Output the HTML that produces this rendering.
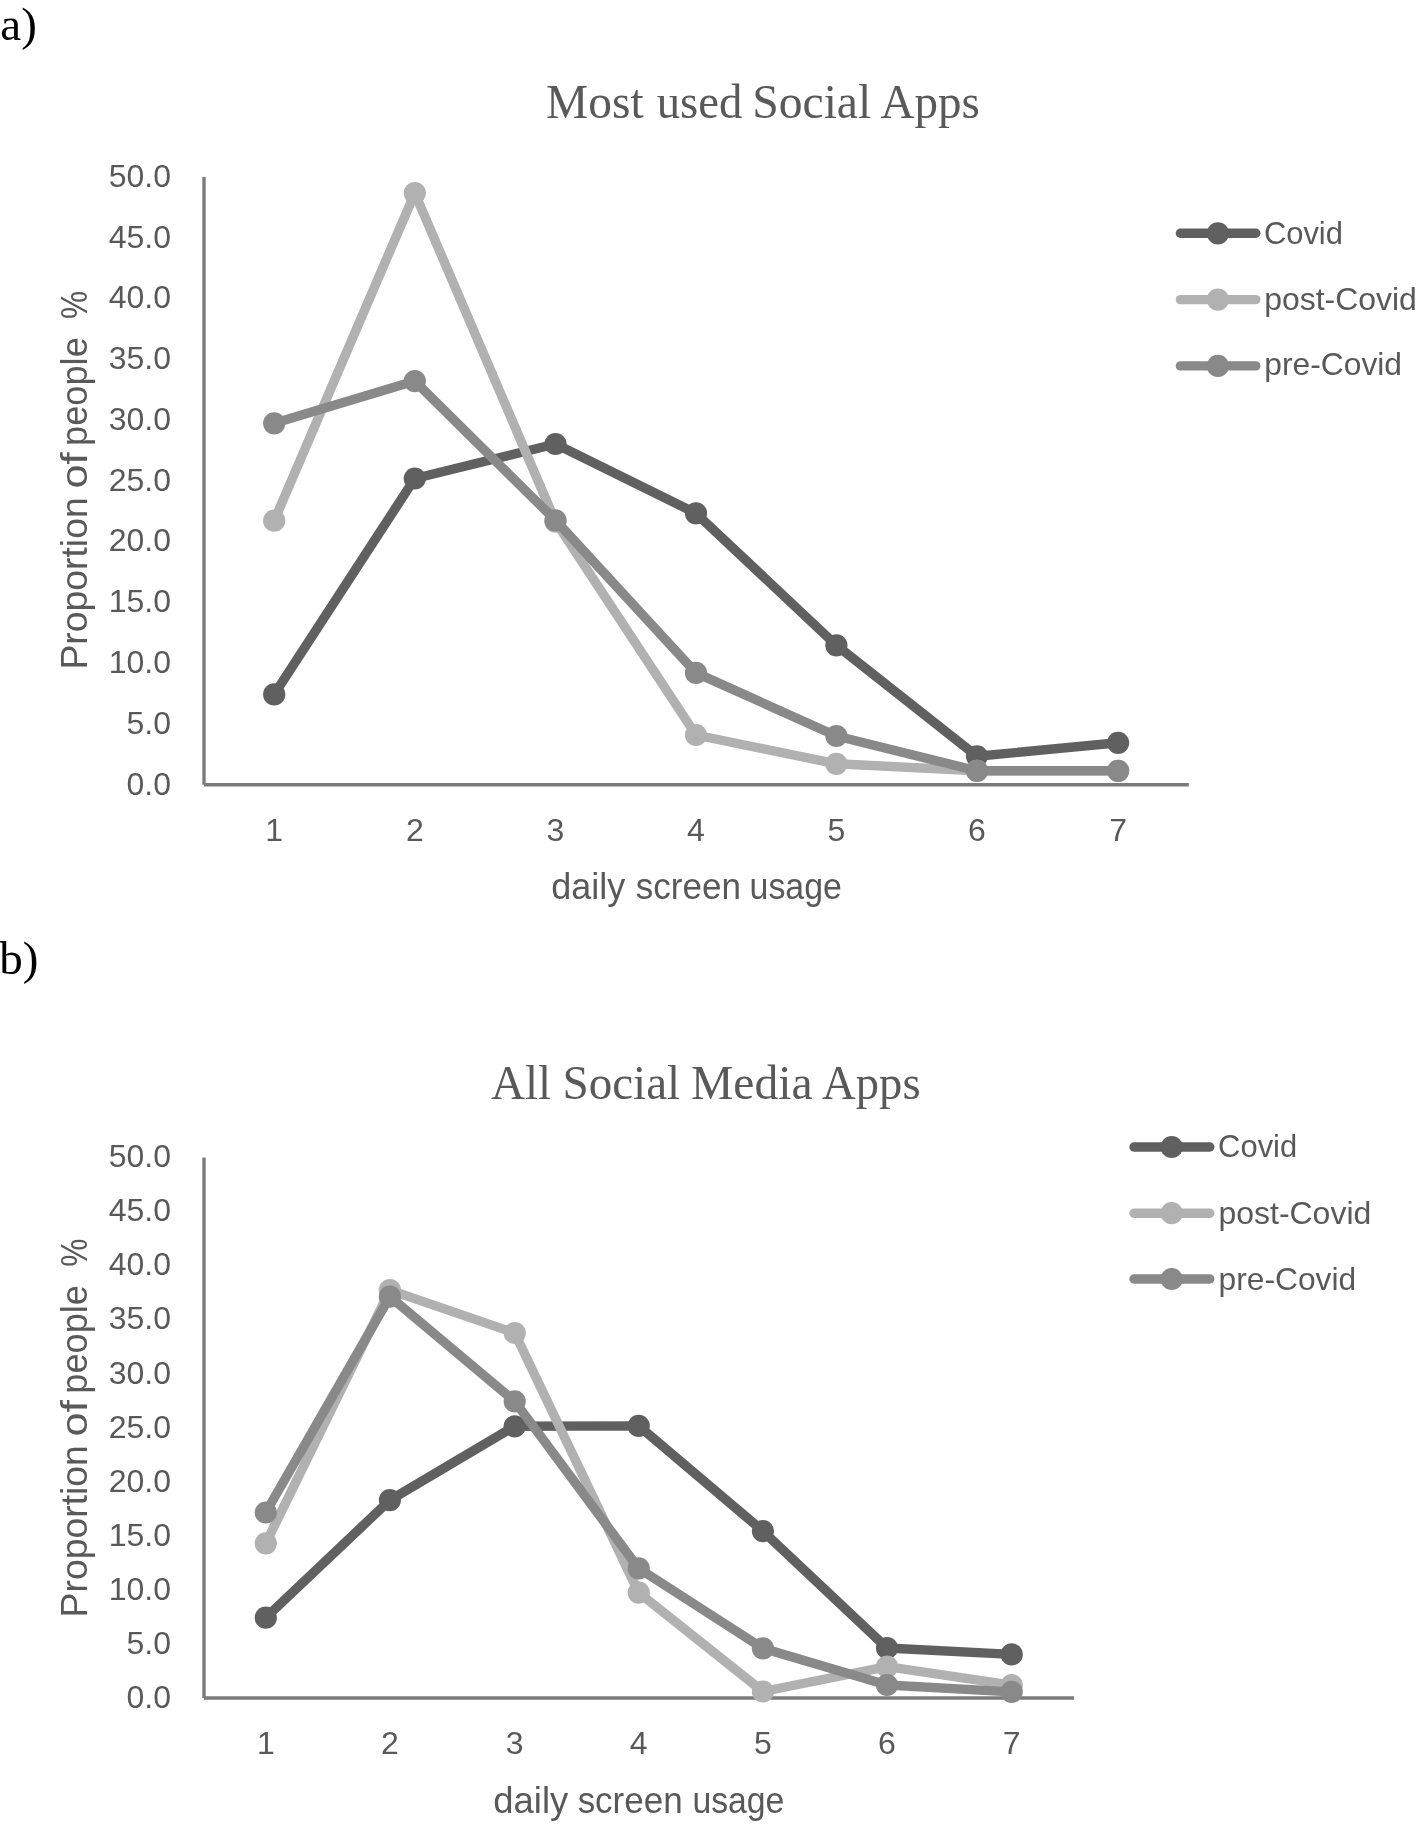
<!DOCTYPE html>
<html><head><meta charset="utf-8"><title>Social apps charts</title>
<style>
html,body{margin:0;padding:0;background:#fff;width:1421px;height:1825px;overflow:hidden}
svg{display:block;filter:grayscale(1)}
.t{font-family:"Liberation Sans",sans-serif;font-size:32px;fill:#595959}
.lg{font-family:"Liberation Sans",sans-serif;font-size:32px;fill:#595959}
.at{font-family:"Liberation Sans",sans-serif;font-size:36px;fill:#595959;white-space:pre}
.ti{font-family:"Liberation Serif",serif;font-size:48px;fill:#595959}
.pl{font-family:"Liberation Serif",serif;font-size:47px;fill:#000}
</style></head><body>
<svg width="1421" height="1825" viewBox="0 0 1421 1825">
<rect width="1421" height="1825" fill="#fff"/>
<text x="0.3" y="39.8" class="pl">a)</text>
<text x="-0.8" y="974.0" class="pl">b)</text>
<text x="546.12" y="117.9" class="ti" textLength="97.48" lengthAdjust="spacingAndGlyphs">Most</text>
<text x="656.67" y="117.9" class="ti" textLength="85.60" lengthAdjust="spacingAndGlyphs">used</text>
<text x="752.17" y="117.9" class="ti" textLength="119.10" lengthAdjust="spacingAndGlyphs">Social</text>
<text x="880.41" y="117.9" class="ti" textLength="99.40" lengthAdjust="spacingAndGlyphs">Apps</text>

<text x="490.91" y="1098.8" class="ti" textLength="60.16" lengthAdjust="spacingAndGlyphs">All</text>
<text x="562.51" y="1098.8" class="ti" textLength="117.65" lengthAdjust="spacingAndGlyphs">Social</text>
<text x="691.01" y="1098.8" class="ti" textLength="121.51" lengthAdjust="spacingAndGlyphs">Media</text>
<text x="822.11" y="1098.8" class="ti" textLength="98.48" lengthAdjust="spacingAndGlyphs">Apps</text>

<line x1="204.0" y1="177.0" x2="204.0" y2="784.7" stroke="#7b7b7b" stroke-width="3.4"/>
<line x1="204.0" y1="784.7" x2="1188.8" y2="784.7" stroke="#7b7b7b" stroke-width="3.4"/>

<text x="171.0" y="794.5" class="t" text-anchor="end">0.0</text>
<text x="171.0" y="733.7" class="t" text-anchor="end">5.0</text>
<text x="171.0" y="672.9" class="t" text-anchor="end">10.0</text>
<text x="171.0" y="612.2" class="t" text-anchor="end">15.0</text>
<text x="171.0" y="551.4" class="t" text-anchor="end">20.0</text>
<text x="171.0" y="490.6" class="t" text-anchor="end">25.0</text>
<text x="171.0" y="429.9" class="t" text-anchor="end">30.0</text>
<text x="171.0" y="369.1" class="t" text-anchor="end">35.0</text>
<text x="171.0" y="308.3" class="t" text-anchor="end">40.0</text>
<text x="171.0" y="247.5" class="t" text-anchor="end">45.0</text>
<text x="171.0" y="186.8" class="t" text-anchor="end">50.0</text>

<text x="274.2" y="841.0" class="t" text-anchor="middle">1</text>
<text x="414.8" y="841.0" class="t" text-anchor="middle">2</text>
<text x="555.5" y="841.0" class="t" text-anchor="middle">3</text>
<text x="696.0" y="841.0" class="t" text-anchor="middle">4</text>
<text x="836.4" y="841.0" class="t" text-anchor="middle">5</text>
<text x="977.0" y="841.0" class="t" text-anchor="middle">6</text>
<text x="1118.1" y="841.0" class="t" text-anchor="middle">7</text>

<text x="551.20" y="898.9" class="at" textLength="74.05" lengthAdjust="spacingAndGlyphs">daily</text>
<text x="635.83" y="898.9" class="at" textLength="105.02" lengthAdjust="spacingAndGlyphs">screen</text>
<text x="749.58" y="898.9" class="at" textLength="92.21" lengthAdjust="spacingAndGlyphs">usage</text>

<g transform="translate(86.8,0) rotate(-90)">
<text x="-669.61" y="0" class="at" textLength="172.31" lengthAdjust="spacingAndGlyphs">Proportion</text>
<text x="-488.61" y="0" class="at" textLength="36.20" lengthAdjust="spacingAndGlyphs">of</text>
<text x="-445.96" y="0" class="at" textLength="108.73" lengthAdjust="spacingAndGlyphs">people</text>
<text x="-318.90" y="0" class="at" textLength="28.22" lengthAdjust="spacingAndGlyphs">%</text>
</g>

<polyline points="274.2,694.4 414.8,478.5 555.5,444.0 696.0,513.3 836.4,645.3 977.0,756.3 1118.1,742.8" fill="none" stroke="#606060" stroke-width="9.4" stroke-linejoin="round" stroke-linecap="round"/>
<circle cx="274.2" cy="694.4" r="11.1" fill="#606060"/>
<circle cx="414.8" cy="478.5" r="11.1" fill="#606060"/>
<circle cx="555.5" cy="444.0" r="11.1" fill="#606060"/>
<circle cx="696.0" cy="513.3" r="11.1" fill="#606060"/>
<circle cx="836.4" cy="645.3" r="11.1" fill="#606060"/>
<circle cx="977.0" cy="756.3" r="11.1" fill="#606060"/>
<circle cx="1118.1" cy="742.8" r="11.1" fill="#606060"/>

<polyline points="274.2,520.7 414.8,193.1 555.5,521.6 696.0,735.0 836.4,763.8 977.0,770.8 1118.1,770.8" fill="none" stroke="#b1b1b1" stroke-width="9.4" stroke-linejoin="round" stroke-linecap="round"/>
<circle cx="274.2" cy="520.7" r="11.1" fill="#b1b1b1"/>
<circle cx="414.8" cy="193.1" r="11.1" fill="#b1b1b1"/>
<circle cx="555.5" cy="521.6" r="11.1" fill="#b1b1b1"/>
<circle cx="696.0" cy="735.0" r="11.1" fill="#b1b1b1"/>
<circle cx="836.4" cy="763.8" r="11.1" fill="#b1b1b1"/>
<circle cx="977.0" cy="770.8" r="11.1" fill="#b1b1b1"/>
<circle cx="1118.1" cy="770.8" r="11.1" fill="#b1b1b1"/>

<polyline points="274.2,423.3 414.8,381.1 555.5,520.3 696.0,672.9 836.4,736.0 977.0,770.8 1118.1,770.8" fill="none" stroke="#898989" stroke-width="9.4" stroke-linejoin="round" stroke-linecap="round"/>
<circle cx="274.2" cy="423.3" r="11.1" fill="#898989"/>
<circle cx="414.8" cy="381.1" r="11.1" fill="#898989"/>
<circle cx="555.5" cy="520.3" r="11.1" fill="#898989"/>
<circle cx="696.0" cy="672.9" r="11.1" fill="#898989"/>
<circle cx="836.4" cy="736.0" r="11.1" fill="#898989"/>
<circle cx="977.0" cy="770.8" r="11.1" fill="#898989"/>
<circle cx="1118.1" cy="770.8" r="11.1" fill="#898989"/>

<line x1="1180.4" y1="233.3" x2="1255.8" y2="233.3" stroke="#606060" stroke-width="9.4" stroke-linecap="round"/>
<circle cx="1217.9" cy="233.3" r="11.1" fill="#606060"/>
<text x="1263.91" y="243.5" class="lg" textLength="78.98" lengthAdjust="spacingAndGlyphs">Covid</text>
<line x1="1180.4" y1="299.6" x2="1255.8" y2="299.6" stroke="#b1b1b1" stroke-width="9.4" stroke-linecap="round"/>
<circle cx="1217.9" cy="299.6" r="11.1" fill="#b1b1b1"/>
<text x="1264.25" y="309.6" class="lg" textLength="152.59" lengthAdjust="spacingAndGlyphs">post-Covid</text>
<line x1="1180.4" y1="365.9" x2="1255.8" y2="365.9" stroke="#898989" stroke-width="9.4" stroke-linecap="round"/>
<circle cx="1217.9" cy="365.9" r="11.1" fill="#898989"/>
<text x="1264.26" y="375.2" class="lg" textLength="137.79" lengthAdjust="spacingAndGlyphs">pre-Covid</text>

<line x1="204.0" y1="1157.5" x2="204.0" y2="1698.0" stroke="#7b7b7b" stroke-width="3.4"/>
<line x1="204.0" y1="1698.0" x2="1074.0" y2="1698.0" stroke="#7b7b7b" stroke-width="3.4"/>

<text x="171.0" y="1707.8" class="t" text-anchor="end">0.0</text>
<text x="171.0" y="1653.7" class="t" text-anchor="end">5.0</text>
<text x="171.0" y="1599.7" class="t" text-anchor="end">10.0</text>
<text x="171.0" y="1545.6" class="t" text-anchor="end">15.0</text>
<text x="171.0" y="1491.6" class="t" text-anchor="end">20.0</text>
<text x="171.0" y="1437.5" class="t" text-anchor="end">25.0</text>
<text x="171.0" y="1383.5" class="t" text-anchor="end">30.0</text>
<text x="171.0" y="1329.4" class="t" text-anchor="end">35.0</text>
<text x="171.0" y="1275.4" class="t" text-anchor="end">40.0</text>
<text x="171.0" y="1221.3" class="t" text-anchor="end">45.0</text>
<text x="171.0" y="1167.3" class="t" text-anchor="end">50.0</text>

<text x="265.8" y="1753.7" class="t" text-anchor="middle">1</text>
<text x="389.9" y="1753.7" class="t" text-anchor="middle">2</text>
<text x="514.7" y="1753.7" class="t" text-anchor="middle">3</text>
<text x="638.7" y="1753.7" class="t" text-anchor="middle">4</text>
<text x="762.9" y="1753.7" class="t" text-anchor="middle">5</text>
<text x="887.0" y="1753.7" class="t" text-anchor="middle">6</text>
<text x="1011.7" y="1753.7" class="t" text-anchor="middle">7</text>

<text x="493.28" y="1812.7" class="at" textLength="74.97" lengthAdjust="spacingAndGlyphs">daily</text>
<text x="577.63" y="1812.7" class="at" textLength="105.02" lengthAdjust="spacingAndGlyphs">screen</text>
<text x="692.39" y="1812.7" class="at" textLength="92.01" lengthAdjust="spacingAndGlyphs">usage</text>

<g transform="translate(86.7,0) rotate(-90)">
<text x="-1617.41" y="0" class="at" textLength="172.31" lengthAdjust="spacingAndGlyphs">Proportion</text>
<text x="-1436.41" y="0" class="at" textLength="36.20" lengthAdjust="spacingAndGlyphs">of</text>
<text x="-1393.76" y="0" class="at" textLength="108.73" lengthAdjust="spacingAndGlyphs">people</text>
<text x="-1266.70" y="0" class="at" textLength="28.22" lengthAdjust="spacingAndGlyphs">%</text>
</g>

<polyline points="265.8,1617.7 389.9,1500.1 514.7,1426.3 638.7,1425.9 762.9,1531.1 887.0,1648.0 1011.7,1654.4" fill="none" stroke="#606060" stroke-width="9.4" stroke-linejoin="round" stroke-linecap="round"/>
<circle cx="265.8" cy="1617.7" r="11.1" fill="#606060"/>
<circle cx="389.9" cy="1500.1" r="11.1" fill="#606060"/>
<circle cx="514.7" cy="1426.3" r="11.1" fill="#606060"/>
<circle cx="638.7" cy="1425.9" r="11.1" fill="#606060"/>
<circle cx="762.9" cy="1531.1" r="11.1" fill="#606060"/>
<circle cx="887.0" cy="1648.0" r="11.1" fill="#606060"/>
<circle cx="1011.7" cy="1654.4" r="11.1" fill="#606060"/>

<polyline points="265.8,1543.3 389.9,1290.1 514.7,1333.0 638.7,1592.6 762.9,1691.5 887.0,1666.6 1011.7,1685.2" fill="none" stroke="#b1b1b1" stroke-width="9.4" stroke-linejoin="round" stroke-linecap="round"/>
<circle cx="265.8" cy="1543.3" r="11.1" fill="#b1b1b1"/>
<circle cx="389.9" cy="1290.1" r="11.1" fill="#b1b1b1"/>
<circle cx="514.7" cy="1333.0" r="11.1" fill="#b1b1b1"/>
<circle cx="638.7" cy="1592.6" r="11.1" fill="#b1b1b1"/>
<circle cx="762.9" cy="1691.5" r="11.1" fill="#b1b1b1"/>
<circle cx="887.0" cy="1666.6" r="11.1" fill="#b1b1b1"/>
<circle cx="1011.7" cy="1685.2" r="11.1" fill="#b1b1b1"/>

<polyline points="265.8,1512.5 389.9,1296.6 514.7,1401.3 638.7,1568.4 762.9,1648.3 887.0,1685.0 1011.7,1691.9" fill="none" stroke="#898989" stroke-width="9.4" stroke-linejoin="round" stroke-linecap="round"/>
<circle cx="265.8" cy="1512.5" r="11.1" fill="#898989"/>
<circle cx="389.9" cy="1296.6" r="11.1" fill="#898989"/>
<circle cx="514.7" cy="1401.3" r="11.1" fill="#898989"/>
<circle cx="638.7" cy="1568.4" r="11.1" fill="#898989"/>
<circle cx="762.9" cy="1648.3" r="11.1" fill="#898989"/>
<circle cx="887.0" cy="1685.0" r="11.1" fill="#898989"/>
<circle cx="1011.7" cy="1691.9" r="11.1" fill="#898989"/>

<line x1="1134.0" y1="1147.0" x2="1209.8" y2="1147.0" stroke="#606060" stroke-width="9.4" stroke-linecap="round"/>
<circle cx="1171.7" cy="1147.0" r="11.1" fill="#606060"/>
<text x="1218.11" y="1157.1" class="lg" textLength="79.09" lengthAdjust="spacingAndGlyphs">Covid</text>
<line x1="1134.0" y1="1213.2" x2="1209.8" y2="1213.2" stroke="#b1b1b1" stroke-width="9.4" stroke-linecap="round"/>
<circle cx="1171.7" cy="1213.2" r="11.1" fill="#b1b1b1"/>
<text x="1218.50" y="1224.1" class="lg" textLength="152.75" lengthAdjust="spacingAndGlyphs">post-Covid</text>
<line x1="1134.0" y1="1279.0" x2="1209.8" y2="1279.0" stroke="#898989" stroke-width="9.4" stroke-linecap="round"/>
<circle cx="1171.7" cy="1279.0" r="11.1" fill="#898989"/>
<text x="1218.52" y="1290.1" class="lg" textLength="137.64" lengthAdjust="spacingAndGlyphs">pre-Covid</text>

</svg>
</body></html>
